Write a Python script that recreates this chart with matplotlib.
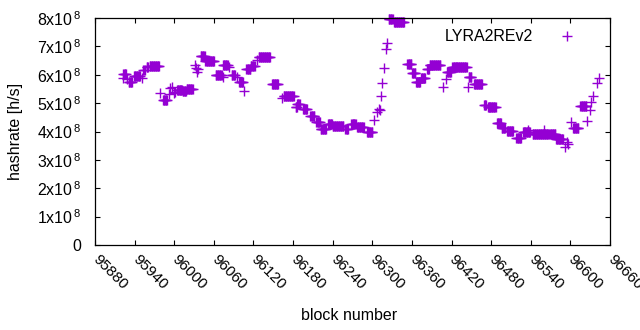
import numpy as np
import matplotlib
matplotlib.use("Agg")
import matplotlib.pyplot as plt

plt.rcParams['font.family'] = ['Liberation Sans', 'DejaVu Sans']
plt.rcParams['mathtext.fontset'] = 'custom'
plt.rcParams['mathtext.rm'] = 'Liberation Sans'
plt.rcParams['mathtext.it'] = 'Liberation Sans'
plt.rcParams['mathtext.default'] = 'rm'

# Plateaus of hashrate (one point per block): start block, end block, value [1e8 h/s]
run_start = [95922, 95923, 95929, 95931, 95939, 95951, 95953, 95958, 95963, 95978,
             95983, 95992, 95994, 95997, 95999, 96001, 96004, 96013, 96019, 96031,
             96033, 96035, 96036, 96040, 96047, 96063, 96074, 96074, 96083, 96087,
             96095, 96098, 96106, 96109, 96116, 96125, 96128, 96148, 96163, 96166,
             96184, 96186, 96195, 96206, 96215, 96222, 96233, 96240, 96259, 96268,
             96277, 96292, 96303, 96307, 96310, 96311, 96313, 96315, 96318, 96320,
             96322, 96325, 96333, 96353, 96360, 96366, 96374, 96383, 96387, 96407,
             96412, 96413, 96421, 96445, 96446, 96454, 96469, 96475, 96489, 96496,
             96504, 96518, 96528, 96536, 96543, 96560, 96568, 96578, 96592, 96595,
             96597, 96601, 96604, 96615, 96625, 96630, 96631, 96634, 96640, 96643]
run_end = [95922, 95927, 95929, 95936, 95948, 95951, 95955, 95960, 95977, 95978,
           95989, 95992, 95994, 95997, 95999, 96001, 96012, 96018, 96028, 96031,
           96033, 96035, 96036, 96046, 96060, 96072, 96074, 96081, 96083, 96092,
           96095, 96104, 96106, 96115, 96122, 96125, 96145, 96157, 96163, 96181,
           96186, 96190, 96201, 96212, 96221, 96230, 96239, 96256, 96263, 96275,
           96287, 96300, 96303, 96307, 96310, 96311, 96313, 96315, 96318, 96320,
           96322, 96331, 96348, 96359, 96365, 96372, 96380, 96386, 96403, 96407,
           96412, 96419, 96443, 96445, 96450, 96466, 96472, 96487, 96495, 96501,
           96513, 96525, 96539, 96536, 96566, 96560, 96577, 96589, 96592, 96595,
           96597, 96601, 96612, 96624, 96625, 96630, 96631, 96634, 96640, 96643]
run_value = [5.87, 6.02, 5.85, 5.74, 5.96, 5.90, 6.17, 6.27, 6.31, 5.36,
             5.11, 5.32, 5.53, 5.57, 5.36, 5.40, 5.46, 5.42, 5.50, 6.34,
             6.24, 6.10, 6.20, 6.66, 6.50, 5.99, 5.92, 6.34, 6.27, 6.00,
             5.92, 5.74, 5.43, 6.20, 6.30, 6.52, 6.63, 5.67, 5.18, 5.25,
             4.86, 4.97, 4.79, 4.55, 4.33, 4.09, 4.26, 4.19, 4.09, 4.26,
             4.16, 3.98, 4.41, 4.69, 4.79, 4.76, 5.25, 5.71, 6.24, 6.90,
             7.12, 7.97, 7.86, 6.38, 6.06, 5.74, 5.89, 6.20, 6.34, 5.57,
             5.85, 6.10, 6.27, 5.57, 5.92, 5.67, 4.93, 4.86, 4.30, 4.12,
             4.02, 3.77, 3.98, 4.07, 3.91, 4.05, 3.91, 3.74, 3.45, 3.63,
             3.55, 4.33, 4.12, 4.90, 4.37, 4.76, 5.04, 5.25, 5.71, 5.89]

x_ticks = list(range(95880, 96661, 60))
y_ticks = [0, 1e8, 2e8, 3e8, 4e8, 5e8, 6e8, 7e8, 8e8]
y_tick_labels = ['0'] + [r'%dx10$^{\,8}$' % i for i in range(1, 9)]

blocks = []
values = []
for s, e, v in zip(run_start, run_end, run_value):
    for b in range(s, e + 1):
        blocks.append(b)
        values.append(v * 1e8)
blocks = np.array(blocks)
values = np.array(values)

fig = plt.figure(figsize=(6.4, 3.3), dpi=100)
ax = fig.add_axes([95/640, 1-245/330, 515/640, 227/330])
color = '#9400D3'
ax.plot(blocks, values, linestyle='none', marker='+', markersize=6.5,
        markeredgewidth=1.0, color=color, clip_on=False, label='LYRA2REv2')

ax.set_xlim(95880, 96660)
ax.set_ylim(0, 8e8)
ax.set_xticks(x_ticks)
ax.set_xticklabels([str(t) for t in x_ticks], rotation=-45, ha='left', va='center',
                   rotation_mode='anchor', fontsize=11)
ax.set_yticks(y_ticks)
ax.set_yticklabels(y_tick_labels, fontsize=11.5)
ax.tick_params(axis='both', direction='in', length=3.5, width=0.8,
               top=True, right=True, colors='black')
ax.tick_params(axis='x', pad=9)
ax.tick_params(axis='y', pad=10)
for sp in ax.spines.values():
    sp.set_linewidth(0.9)

leg = ax.legend(loc='upper right', frameon=False, markerfirst=False, fontsize=11.5,
                handlelength=2.0, handletextpad=1.15, borderaxespad=0.3,
                bbox_to_anchor=(0.97, 1.0))

fig.text(349/640, 1-316/330, 'block number', ha='center', va='center', fontsize=11.5)
fig.text(16/640, 1-131/330, 'hashrate [h/s]', ha='center', va='center',
         rotation=90, fontsize=11.5)

fig.savefig('out.png', dpi=100)
